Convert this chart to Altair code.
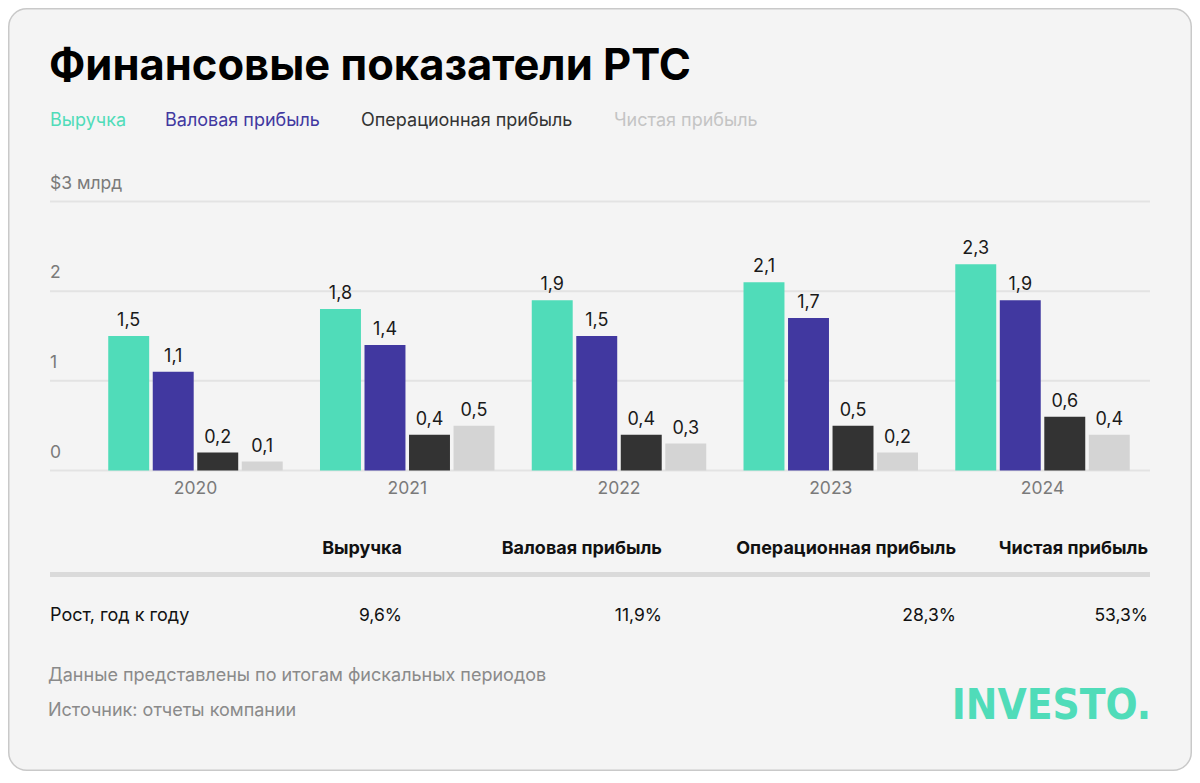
import altair as alt
import pandas as pd

# ---------------- data ----------------
years = ["2020", "2021", "2022", "2023", "2024"]
metrics = ["Выручка", "Валовая прибыль", "Операционная прибыль", "Чистая прибыль"]
revenue = [1.5, 1.8, 1.9, 2.1, 2.3]
gross_profit = [1.1, 1.4, 1.5, 1.7, 1.9]
operating_profit = [0.2, 0.4, 0.4, 0.5, 0.6]
net_profit = [0.1, 0.5, 0.3, 0.2, 0.4]
growth_yoy = [9.6, 11.9, 28.3, 53.3]
y_ticks = [0, 1, 2, 3]
y_tick_labels = ["0", "1", "2", "$3 млрд"]
title_text = "Финансовые показатели РТС"
row_label = "Рост, год к году"
footer_1 = "Данные представлены по итогам фискальных периодов"
footer_2 = "Источник: отчеты компании"
logo_text = "INVESTO."

# ---------------- styling ----------------
W, H = 1184, 763
FONT = "Inter"
BAR_COLORS = ["#50dcb9", "#4138a0", "#333333", "#d4d4d4"]
LEGEND_COLORS = ["#50dcb9", "#4138a0", "#333333", "#c4c4c4"]
BG = "#f4f4f4"


def fmt(v):
    return f"{v:.1f}".replace(".", ",")


series = [revenue, gross_profit, operating_profit, net_profit]
rows = []
for m, vals in zip(metrics, series):
    for yr, v in zip(years, vals):
        rows.append({"year": yr, "metric": m, "value": v, "label": fmt(v)})
df = pd.DataFrame(rows)

x_scale = alt.Scale(domain=years, range=[81.6, 1140.4], paddingInner=0.176, paddingOuter=0.088)
y_scale = alt.Scale(domain=[0, 3], range=[462.5, 193.5])
xo = alt.XOffset("metric:N", sort=metrics,
                 scale=alt.Scale(domain=metrics, paddingInner=0.08, paddingOuter=0))


def txt(s, x, y, size, color, weight="normal", align="left", font=FONT):
    return alt.Chart(pd.DataFrame({"t": [s]})).mark_text(
        align=align, baseline="alphabetic", fontSize=size, fontWeight=weight,
        color=color, font=font
    ).encode(x=alt.value(x), y=alt.value(y), text="t:N")


layers = []

# card
layers.append(
    alt.Chart(pd.DataFrame({"a": [0]})).mark_rect(
        fill=BG, stroke="#c9c9c9", strokeWidth=1.5, cornerRadius=18
    ).encode(x=alt.value(0.75), x2=alt.value(W - 0.75), y=alt.value(0.75), y2=alt.value(H - 0.75))
)

# title
layers.append(txt(title_text, 41, 72, 43.5, "#000000", weight="bold"))

# legend
for name, col, xpos in zip(metrics, LEGEND_COLORS, [42, 157, 353, 606]):
    layers.append(txt(name, xpos, 118, 18, col))

# gridlines
grid_df = pd.DataFrame({"v": y_ticks, "lab": y_tick_labels})
layers.append(
    alt.Chart(grid_df).mark_rule(color="#e3e3e3", strokeWidth=2).encode(
        y=alt.Y("v:Q", scale=y_scale, axis=None),
        x=alt.value(42), x2=alt.value(1142)
    )
)
layers.append(
    alt.Chart(grid_df).mark_text(align="left", baseline="alphabetic", fontSize=17.5,
                                 color="#7a7a7a", font=FONT, dy=-13).encode(
        y=alt.Y("v:Q", scale=y_scale, axis=None),
        x=alt.value(42), text="lab:N"
    )
)

# bars
layers.append(
    alt.Chart(df).mark_bar().encode(
        x=alt.X("year:N", scale=x_scale, axis=None),
        xOffset=xo,
        y=alt.Y("value:Q", scale=y_scale, axis=None),
        color=alt.Color("metric:N", scale=alt.Scale(domain=metrics, range=BAR_COLORS), legend=None),
    )
)
layers.append(
    alt.Chart(df).mark_text(baseline="alphabetic", fontSize=18, color="#1a1a1a",
                            font=FONT, dy=-10).encode(
        x=alt.X("year:N", scale=x_scale, axis=None),
        xOffset=xo,
        y=alt.Y("value:Q", scale=y_scale, axis=None),
        text="label:N",
    )
)

# year labels
layers.append(
    alt.Chart(pd.DataFrame({"year": years})).mark_text(
        baseline="alphabetic", fontSize=17.5, color="#7a7a7a", font=FONT
    ).encode(x=alt.X("year:N", scale=x_scale, axis=None), y=alt.value(486), text="year:N")
)

# table
col_right = [394, 654, 948, 1140]
for name, xpos in zip(metrics, col_right):
    layers.append(txt(name, xpos, 545.5, 18, "#111111", weight="bold", align="right"))
layers.append(
    alt.Chart(pd.DataFrame({"a": [0]})).mark_rule(color="#dadada", strokeWidth=5).encode(
        x=alt.value(42), x2=alt.value(1142), y=alt.value(566.5)
    )
)
layers.append(txt(row_label, 42, 612.5, 18, "#111111"))
for g, xpos in zip(growth_yoy, col_right):
    layers.append(txt(fmt(g) + "%", xpos, 612.5, 17.5, "#111111", align="right"))

# footer
layers.append(txt(footer_1, 40, 673, 18, "#8a8a8a"))
layers.append(txt(footer_2, 40, 708, 18, "#8a8a8a"))
layers.append(txt(logo_text, 1143, 711, 42, "#50dcb9", weight="bold", align="right",
                  font="Liberation Sans Narrow, DejaVu Sans Condensed, Roboto, sans-serif"))

chart = alt.layer(*layers).properties(
    width=W, height=H, padding=0,
    autosize=alt.AutoSizeParams(type="none"),
    background="white",
).configure_view(strokeWidth=0)

chart.save("out.html", embed_options={"renderer": "svg", "actions": False})
